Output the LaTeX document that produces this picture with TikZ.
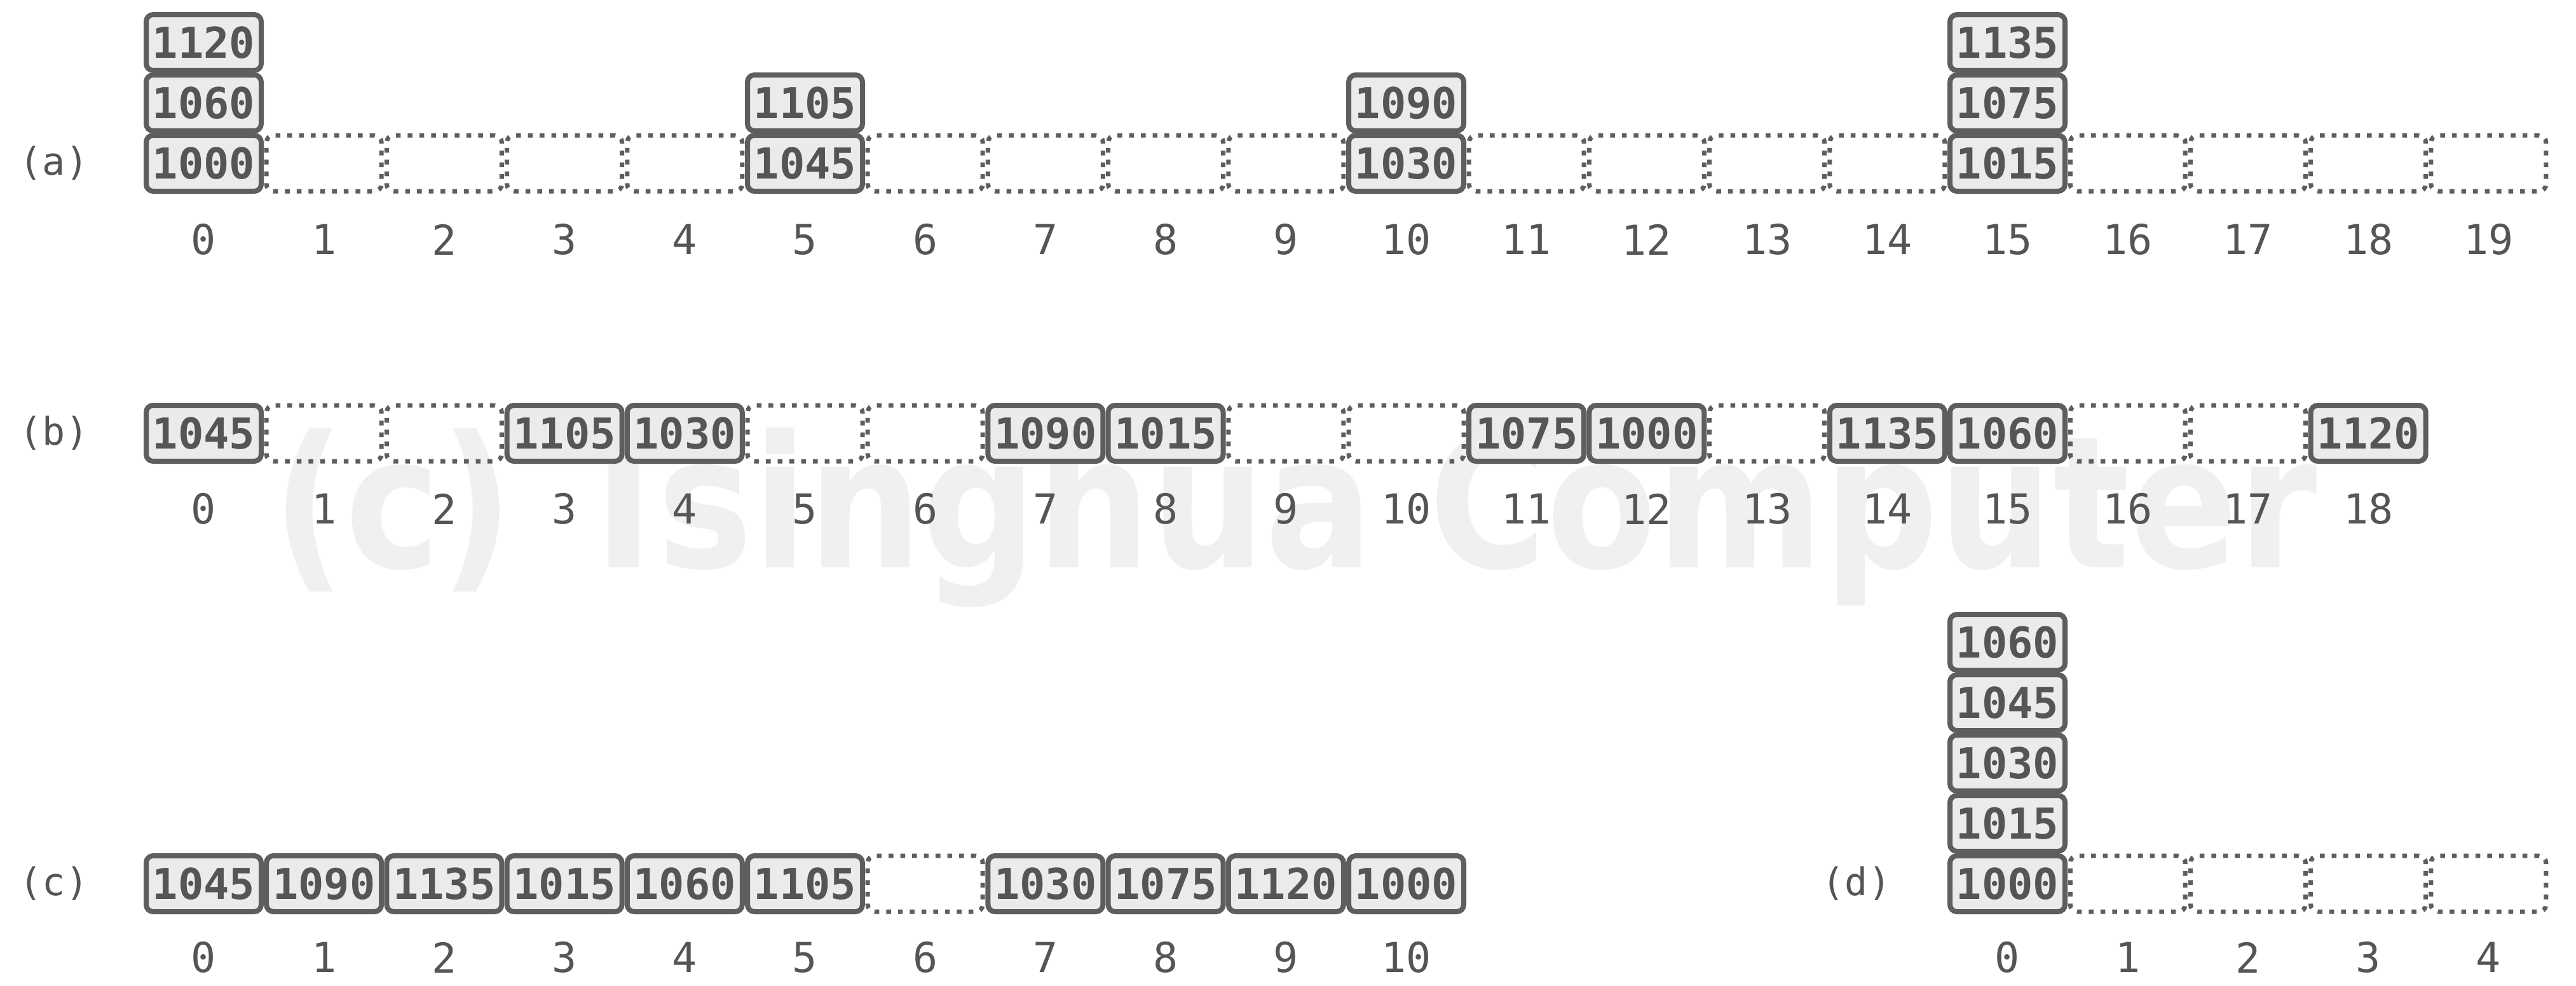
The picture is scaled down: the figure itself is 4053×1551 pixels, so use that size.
\documentclass[tikz,border=0pt]{standalone}
\usepackage{fontspec}
\setmonofont{DejaVu Sans Mono}
\newfontfamily\wmfont{DejaVu Sans}
\definecolor{bd}{HTML}{5E5E5E}
\definecolor{bf}{HTML}{EBEBEB}
\definecolor{tx}{HTML}{555555}
\definecolor{wm}{HTML}{F0F0F0}
\tikzset{
 cellbox/.style={draw=bd, line width=0.8pt, fill=bf, rounded corners=1.1pt, minimum width=18.1pt, minimum height=8.8pt, inner sep=0pt, text=tx, font=\ttfamily\bfseries\fontsize{6.7}{6.7}\selectfont},
 emptybox/.style={draw=bd, line width=0.7pt, dash pattern=on 0.75pt off 1.1pt, rounded corners=1.1pt, minimum width=18.1pt, minimum height=8.8pt, inner sep=0pt},
 idx/.style={text=tx, font=\ttfamily\fontsize{6.5}{6.5}\selectfont, inner sep=0pt},
 rowlab/.style={text=tx, font=\ttfamily\fontsize{6}{6}\selectfont, inner sep=0pt},
 wmark/.style={text=wm, inner sep=0pt, font=\wmfont\bfseries},
}
\begin{document}
\begin{tikzpicture}[x=0.1pt,y=-0.1pt]
\fill[white] (0,0) rectangle (4053,1551);
\useasboundingbox (0,0) rectangle (4053,1551);
% watermark
\node[wmark, anchor=base west] (wm) at (426,893) {\resizebox{321.8pt}{22pt}{(c) Tsinghua Computer}};
% ---------- (a)
\node[rowlab] (la) at (85,257) {(a)};
\foreach \i in {1,2,3,4,6,7,8,9,11,12,13,14,16,17,18,19}
  \node[emptybox] (ae\i) at ({320.5+189.2*\i},257) {};
\foreach \i/\k/\v in {0/0/1000,0/1/1060,0/2/1120,5/0/1045,5/1/1105,10/0/1030,10/1/1090,15/0/1015,15/1/1075,15/2/1135}
  \node[cellbox] (a\i-\k) at ({320.5+189.2*\i},{257-95*\k}) {\v};
\foreach \i in {0,...,19}
  \node[idx] (ai\i) at ({320.5+189.2*\i},377) {\i};
% ---------- (b)
\node[rowlab] (lb) at (85,682) {(b)};
\foreach \i in {1,2,5,6,9,10,13,16,17}
  \node[emptybox] (be\i) at ({320.5+189.2*\i},682) {};
\foreach \i/\v in {0/1045,3/1105,4/1030,7/1090,8/1015,11/1075,12/1000,14/1135,15/1060,18/1120}
  \node[cellbox] (b\i) at ({320.5+189.2*\i},682) {\v};
\foreach \i in {0,...,18}
  \node[idx] (bi\i) at ({320.5+189.2*\i},801) {\i};
% ---------- (c)
\node[rowlab] (lc) at (85,1391) {(c)};
\node[emptybox] (ce6) at ({320.5+189.2*6},1391) {};
\foreach \i/\v in {0/1045,1/1090,2/1135,3/1015,4/1060,5/1105,7/1030,8/1075,9/1120,10/1000}
  \node[cellbox] (c\i) at ({320.5+189.2*\i},1391) {\v};
\foreach \i in {0,...,10}
  \node[idx] (ci\i) at ({320.5+189.2*\i},1507) {\i};
% ---------- (d)
\node[rowlab] (ld) at (2921,1391) {(d)};
\foreach \i in {1,...,4}
  \node[emptybox] (de\i) at ({3158.5+189.2*\i},1391) {};
\foreach \k/\v in {0/1000,1/1015,2/1030,3/1045,4/1060}
  \node[cellbox] (d0-\k) at (3158.5,{1391-95*\k}) {\v};
\foreach \i in {0,...,4}
  \node[idx] (di\i) at ({3158.5+189.2*\i},1507) {\i};
\end{tikzpicture}
\end{document}
